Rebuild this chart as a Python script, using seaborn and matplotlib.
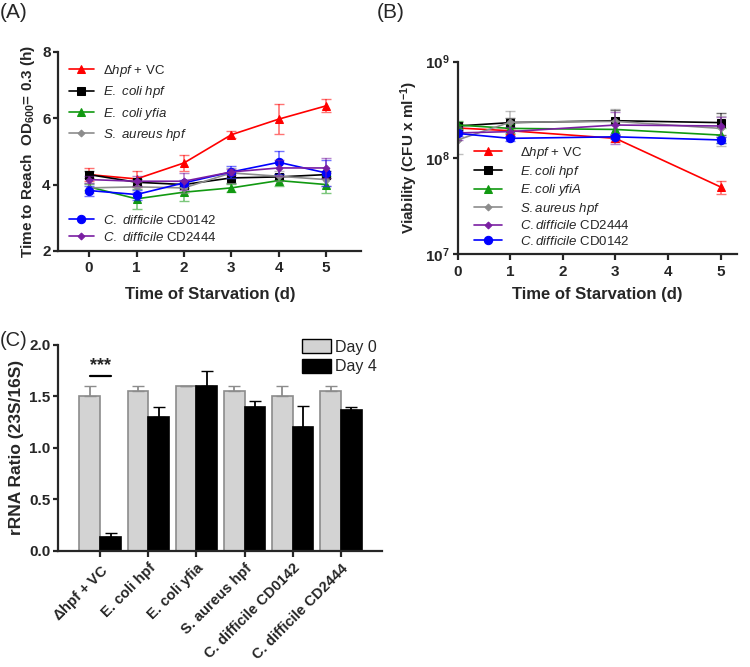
import matplotlib
matplotlib.use("Agg")
import matplotlib.pyplot as plt
import numpy as np
import pandas as pd
import seaborn as sns
from matplotlib.patches import Patch

sns.set_style("ticks")
plt.rcParams.update(
    {
        "font.family": ["Liberation Sans", "DejaVu Sans"],
        "axes.labelweight": "bold",
        "axes.linewidth": 1.6,
        "xtick.major.width": 1.6,
        "ytick.major.width": 1.6,
        "xtick.major.size": 4.5,
        "ytick.major.size": 3.5,
        "xtick.major.pad": 3,
        "ytick.major.pad": 2,
        "xtick.labelsize": 11,
        "ytick.labelsize": 11,
        "axes.labelsize": 12,
        "mathtext.fontset": "custom",
        "mathtext.rm": "Liberation Sans",
        "mathtext.it": "Liberation Sans:italic",
        "mathtext.bf": "Liberation Sans:bold",
    }
)

# ---- Panel A: time to reach OD600 = 0.3 (h)
days_a = [0, 1, 2, 3, 4, 5]
a_dhpf = [4.30, 4.17, 4.65, 5.50, 5.97, 6.37]
a_dhpf_sd = [0.20, 0.25, 0.25, 0.10, 0.45, 0.20]
a_ecoli_hpf = [4.30, 4.07, 4.00, 4.20, 4.23, 4.30]
a_ecoli_hpf_sd = [0.10, 0.10, 0.10, 0.15, 0.10, 0.10]
a_ecoli_yfia = [3.93, 3.57, 3.77, 3.90, 4.12, 4.00]
a_ecoli_yfia_sd = [0.10, 0.30, 0.28, 0.12, 0.15, 0.25]
a_saureus = [3.90, 3.93, 3.90, 4.35, 4.25, 4.15]
a_saureus_sd = [0.15, 0.15, 0.15, 0.15, 0.15, 0.20]
a_cd0142 = [3.82, 3.70, 4.05, 4.38, 4.67, 4.35]
a_cd0142_sd = [0.15, 0.15, 0.10, 0.18, 0.35, 0.40]
a_cd2444 = [4.15, 4.10, 4.10, 4.38, 4.50, 4.50]
a_cd2444_sd = [0.10, 0.15, 0.25, 0.10, 0.25, 0.30]

# ---- Panel B: viability (CFU/ml)
days_b = [0, 1, 3, 5]
b_dhpf = [2.05e8, 1.92e8, 1.60e8, 5.0e7]
b_dhpf_sd = [0.2e8, 0.15e8, 0.15e8, 0.8e7]
b_ecoli_hpf = [2.15e8, 2.33e8, 2.44e8, 2.33e8]
b_ecoli_hpf_sd = [0.2e8, 0.3e8, 0.7e8, 0.6e8]
b_ecoli_yfia = [2.20e8, 2.03e8, 1.98e8, 1.73e8]
b_ecoli_yfia_sd = [0.2e8, 0.2e8, 0.3e8, 0.3e8]
b_saureus = [1.54e8, 2.35e8, 2.40e8, 2.03e8]
b_saureus_sd = [0.45e8, 0.7e8, 0.8e8, 0.7e8]
b_cd2444 = [1.82e8, 1.88e8, 2.20e8, 2.15e8]
b_cd2444_sd = [0.3e8, 0.2e8, 0.8e8, 0.5e8]
b_cd0142 = [1.80e8, 1.60e8, 1.66e8, 1.54e8]
b_cd0142_sd = [0.1e8, 0.1e8, 0.1e8, 0.1e8]
b_ticks = [1e7, 1e8, 1e9]
b_tick_labels = [r"$\mathbf{10^{7}}$", r"$\mathbf{10^{8}}$", r"$\mathbf{10^{9}}$"]

# ---- Panel C: rRNA ratio
strains_c = ["Δhpf + VC", "E. coli hpf", "E. coli yfia", "S. aureus hpf",
             "C. difficile CD0142", "C. difficile CD2444"]
c_day0 = [1.50, 1.55, 1.60, 1.55, 1.50, 1.55]
c_day0_sd = [0.10, 0.05, 0.0, 0.05, 0.10, 0.05]
c_day4 = [0.13, 1.30, 1.60, 1.40, 1.20, 1.37]
c_day4_sd = [0.04, 0.10, 0.15, 0.06, 0.21, 0.03]

RED, BLACK, GREEN, GREY, BLUE, PURPLE = "#ff0000", "#000000", "#119911", "#8c8c8c", "#0000ff", "#7a1fa2"
LEG_PROP = {"weight": "normal", "size": 9.5}


def draw_series(ax, x, y, sd, color, marker, label, ms=6):
    sns.lineplot(x=x, y=y, color=color, marker=marker, markersize=ms,
                 markeredgecolor=color, linewidth=1.2, label=label,
                 errorbar=None, ax=ax, legend=False)
    ax.errorbar(x, y, yerr=sd, fmt="none", ecolor=color, alpha=0.55,
                elinewidth=1.2, capsize=3.5)


def labelled_lines(ax):
    return [l for l in ax.get_lines()
            if l.get_label() and not l.get_label().startswith("_")]


def bold_ticks(ax):
    for t in ax.get_xticklabels() + ax.get_yticklabels():
        t.set_fontweight("bold")


fig = plt.figure(figsize=(7.5, 6.67), dpi=100)

# Panel A
ax_a = fig.add_axes([0.0777, 0.6237, 0.404, 0.2988])
series_a = [
    (a_dhpf, a_dhpf_sd, RED, "^", r"$\Delta\mathit{hpf}$ + VC", 6),
    (a_ecoli_hpf, a_ecoli_hpf_sd, BLACK, "s", r"$\mathit{E.\ coli\ hpf}$", 6),
    (a_ecoli_yfia, a_ecoli_yfia_sd, GREEN, "^", r"$\mathit{E.\ coli\ yfia}$", 6),
    (a_saureus, a_saureus_sd, GREY, "D", r"$\mathit{S.\ aureus\ hpf}$", 3.5),
    (a_cd0142, a_cd0142_sd, BLUE, "o", r"$\mathit{C.\ difficile}$ CD0142", 6),
    (a_cd2444, a_cd2444_sd, PURPLE, "D", r"$\mathit{C.\ difficile}$ CD2444", 3.5),
]
for y, sd, c, m, lab, ms in series_a:
    draw_series(ax_a, days_a, y, sd, c, m, lab, ms)
ax_a.set_xlim(-0.65, 5.74)
ax_a.set_ylim(2, 8)
ax_a.set_yticks([2, 4, 6, 8])
ax_a.set_xticks(days_a)
bold_ticks(ax_a)
ax_a.set_xlabel("Time of Starvation (d)", labelpad=8)
ax_a.set_ylabel(r"Time to Reach  OD$_{\mathbf{600}}$= 0.3 (h)", fontsize=11)
sns.despine(ax=ax_a)
h_a = labelled_lines(ax_a)
leg1 = ax_a.legend(h_a[:4], [l.get_label() for l in h_a[:4]], loc="upper left",
                   bbox_to_anchor=(0.017, 0.97), borderaxespad=0, frameon=False,
                   prop=LEG_PROP, handlelength=1.9, handletextpad=0.7,
                   labelspacing=0.4)
ax_a.add_artist(leg1)
ax_a.legend(h_a[4:], [l.get_label() for l in h_a[4:]], loc="lower left",
            bbox_to_anchor=(0.017, 0.01), borderaxespad=0, frameon=False,
            prop=LEG_PROP, handlelength=1.9, handletextpad=0.7,
            labelspacing=0.3)

# Panel B
ax_b = fig.add_axes([0.610, 0.6187, 0.372, 0.2888])
series_b = [
    (b_dhpf, b_dhpf_sd, RED, "^", r"$\Delta\mathit{hpf}$ + VC", 6),
    (b_ecoli_hpf, b_ecoli_hpf_sd, BLACK, "s", r"$\mathit{E.coli\ hpf}$", 6),
    (b_ecoli_yfia, b_ecoli_yfia_sd, GREEN, "^", r"$\mathit{E.coli\ yfiA}$", 6),
    (b_saureus, b_saureus_sd, GREY, "D", r"$\mathit{S.aureus\ hpf}$", 3.5),
    (b_cd2444, b_cd2444_sd, PURPLE, "D", r"$\mathit{C.difficile}$ CD2444", 3.5),
    (b_cd0142, b_cd0142_sd, BLUE, "o", r"$\mathit{C.difficile}$ CD0142", 6),
]
for y, sd, c, m, lab, ms in series_b:
    draw_series(ax_b, days_b, y, sd, c, m, lab, ms)
ax_b.set_yscale("log")
ax_b.set_ylim(1e7, 1e9)
ax_b.set_yticks(b_ticks)
ax_b.set_yticklabels(b_tick_labels)
ax_b.yaxis.set_minor_locator(matplotlib.ticker.NullLocator())
ax_b.set_xlim(0, 5.3)
ax_b.set_xticks([0, 1, 2, 3, 4, 5])
bold_ticks(ax_b)
ax_b.set_xlabel("Time of Starvation (d)", labelpad=6)
ax_b.set_ylabel(r"Viability (CFU x ml$^{\mathbf{-1}}$)", fontsize=11)
sns.despine(ax=ax_b)
h_b = labelled_lines(ax_b)
ax_b.legend(h_b, [l.get_label() for l in h_b], loc="lower left",
            bbox_to_anchor=(0.04, 0.005), borderaxespad=0, frameon=False,
            prop=LEG_PROP, handlelength=2.1, handletextpad=1.4,
            labelspacing=0.2)

# Panel C
ax_c = fig.add_axes([0.0777, 0.1744, 0.432, 0.3084])
df_c = pd.DataFrame(
    {
        "Strain": strains_c * 2,
        "Ratio": c_day0 + c_day4,
        "Day": ["Day 0"] * len(strains_c) + ["Day 4"] * len(strains_c),
    }
)
sns.barplot(data=df_c, x="Strain", y="Ratio", hue="Day",
            palette=["#d3d3d3", "#000000"], width=0.86, errorbar=None,
            ax=ax_c, legend=False)
edge_cols = ["#8c8c8c", "#000000"]
for cont, sd, ec in zip(ax_c.containers, [c_day0_sd, c_day4_sd], edge_cols):
    xs = [b.get_x() + b.get_width() / 2 for b in cont]
    ys = [b.get_height() for b in cont]
    for b in cont:
        b.set_edgecolor(ec)
        b.set_linewidth(1.2)
    ax_c.errorbar(xs, ys, yerr=[np.zeros(len(sd)), sd], fmt="none",
                  ecolor=ec, elinewidth=1.3, capsize=4, zorder=1)
ax_c.set_xlim(-0.87, 5.86)
ax_c.set_ylim(0, 2.0)
ax_c.set_yticks([0, 0.5, 1.0, 1.5, 2.0])
ax_c.set_xlabel("")
ax_c.set_ylabel("rRNA Ratio (23S/16S)", fontsize=12.5)
ax_c.set_xticks(range(len(strains_c)))
ax_c.set_xticklabels(
    [r"$\mathbf{\Delta}$hpf + VC"] + strains_c[1:], rotation=45, ha="right",
    rotation_mode="anchor", fontsize=10.5)
bold_ticks(ax_c)
sns.despine(ax=ax_c)
# significance marker
b0 = ax_c.containers[0][0]
b4 = ax_c.containers[1][0]
x0 = b0.get_x() + b0.get_width() / 2
x4 = b4.get_x() + b4.get_width() / 2
ax_c.plot([x0, x4], [1.7, 1.7], color="black", linewidth=1.6)
ax_c.text((x0 + x4) / 2, 1.72, "***", ha="center", va="bottom", fontsize=13,
          fontweight="bold")
ax_c.legend(
    [Patch(facecolor="#d3d3d3", edgecolor="#000000"),
     Patch(facecolor="#000000", edgecolor="#000000")],
    ["Day 0", "Day 4"], loc="upper left", bbox_to_anchor=(0.733, 1.058),
    borderaxespad=0, frameon=False, handlelength=1.8, handleheight=0.95,
    labelspacing=0.25, handletextpad=0.25,
    prop={"weight": "normal", "size": 11.5})

fig.text(0.0, 0.995, "(A)", fontsize=15, va="top")
fig.text(0.503, 0.995, "(B)", fontsize=15, va="top")
fig.text(0.0, 0.503, "(C)", fontsize=14.5, va="top")

fig.savefig("out.png", dpi=100)
